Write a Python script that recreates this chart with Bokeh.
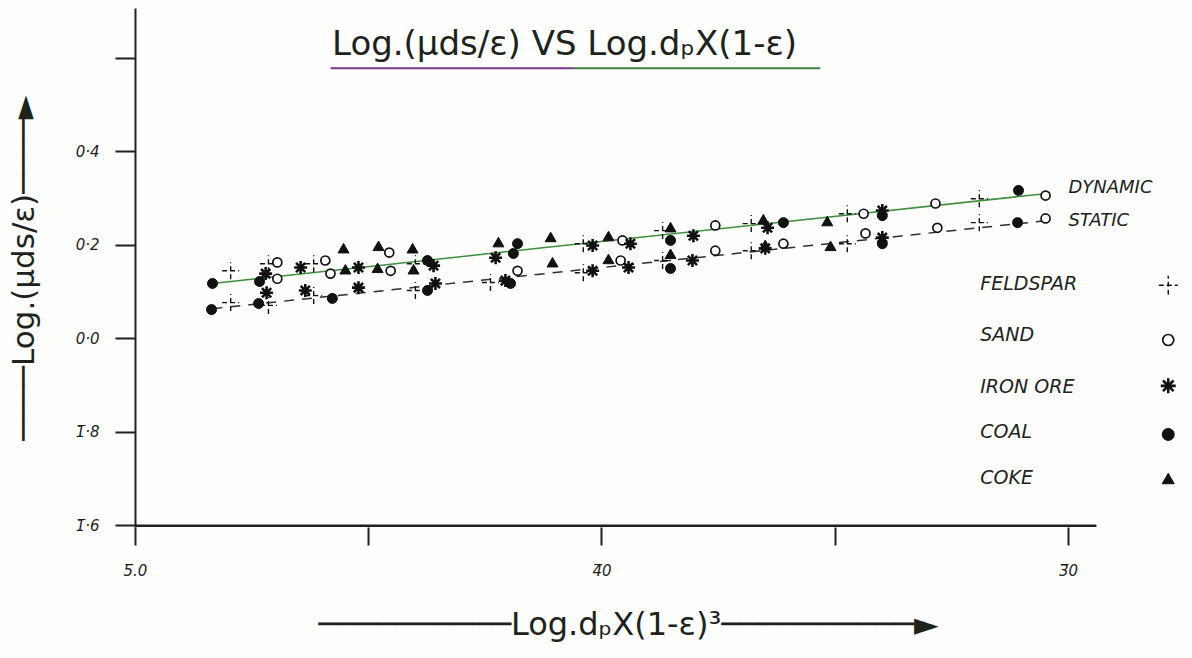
from bokeh.plotting import figure
from bokeh.models import FixedTicker, Range1d
from bokeh.core.properties import value
from bokeh.embed import file_html
from bokeh.resources import INLINE

# ---------------- data (log values; bar notation: 5̄.0 = -5, 1̄.8 = -0.2) ----------------
FELDSPAR_X = [-4.796, -4.796, -4.715, -4.715, -4.618, -4.618, -4.400, -4.400, -4.239,
              -4.040, -4.040, -3.870, -3.870, -3.680, -3.680, -3.474, -3.474, -3.191, -3.191]
FELDSPAR_Y = [0.145, 0.077, 0.160, 0.071, 0.160, 0.092, 0.160, 0.103, 0.120,
              0.203, 0.141, 0.231, 0.167, 0.246, 0.188, 0.267, 0.203, 0.299, 0.248]

SAND_X = [-4.696, -4.696, -4.593, -4.582, -4.456, -4.453, -4.181, -3.956, -3.960,
          -3.757, -3.757, -3.611, -3.439, -3.435, -3.285, -3.281, -3.049, -3.049]
SAND_Y = [0.163, 0.128, 0.167, 0.139, 0.184, 0.145, 0.145, 0.210, 0.167,
          0.242, 0.188, 0.203, 0.267, 0.225, 0.289, 0.237, 0.306, 0.257]

IRON_X = [-4.721, -4.719, -4.646, -4.636, -4.522, -4.522, -4.361, -4.357, -4.228, -4.207,
          -4.020, -4.020, -3.939, -3.943, -3.804, -3.806, -3.645, -3.650, -3.399, -3.399]
IRON_Y = [0.139, 0.098, 0.152, 0.103, 0.152, 0.109, 0.156, 0.118, 0.173, 0.124,
          0.199, 0.145, 0.203, 0.152, 0.220, 0.167, 0.237, 0.193, 0.274, 0.216]

COAL_X = [-4.835, -4.837, -4.734, -4.736, -4.578, -4.374, -4.374, -4.181, -4.190,
          -4.196, -3.853, -3.853, -3.611, -3.399, -3.399, -3.107, -3.109]
COAL_Y = [0.118, 0.062, 0.122, 0.075, 0.086, 0.167, 0.103, 0.203, 0.182,
          0.118, 0.210, 0.150, 0.248, 0.263, 0.203, 0.317, 0.248]

COKE_X = [-4.554, -4.550, -4.479, -4.481, -4.406, -4.404, -4.222, -4.110, -4.106,
          -3.986, -3.986, -3.853, -3.853, -3.654, -3.650, -3.517, -3.510]
COKE_Y = [0.190, 0.145, 0.195, 0.148, 0.190, 0.145, 0.203, 0.214, 0.160,
          0.216, 0.167, 0.235, 0.178, 0.252, 0.197, 0.248, 0.195]

# fitted lines
FIT_X = [-4.835, -3.049]
DYNAMIC_Y = [0.118, 0.310]
STATIC_Y = [0.064, 0.252]

X_TICKS = [-5.0, -4.5, -4.0, -3.5, -3.0]
X_TICK_LABELS = ["5\u0305.0", "", "4\u03050", "", "3\u03050"]
Y_TICKS = [-0.4, -0.2, 0.0, 0.2, 0.4, 0.6]
Y_TICK_LABELS = ["1\u0305\u00b76", "1\u0305\u00b78", "0\u00b70", "0\u00b72", "0\u00b74", ""]

LEGEND_LABELS = ["FELDSPAR", "SAND", "IRON ORE", "COAL", "COKE"]
TITLE = "Log.(\u03bcds/\u03b5)  VS  Log.d\u209aX(1-\u03b5)"
X_LABEL = "Log.d\u209aX(1-\u03b5)\u00b3"
Y_LABEL = "Log.(\u03bcds/\u03b5)"

INK = "#1c221c"
FONT = "DejaVu Sans"

p = figure(width=1192, height=658, output_backend="svg", toolbar_location=None,
           x_range=Range1d(-5.0, -2.734), y_range=Range1d(-0.404, 0.706),
           min_border_left=135, min_border_right=0, min_border_top=8, min_border_bottom=131)
p.outline_line_color = None
p.grid.visible = False
p.background_fill_color = "#fefefc"
p.border_fill_color = "#fefefc"

# x axis
xa = p.xaxis[0]
xa.ticker = FixedTicker(ticks=X_TICKS, minor_ticks=[])
xa.major_label_overrides = {t: l for t, l in zip(X_TICKS, X_TICK_LABELS)}
xa.axis_line_color = None
xa.major_tick_in = 0
xa.major_tick_out = 18
xa.major_tick_line_width = 2
xa.major_tick_line_color = INK
xa.minor_tick_line_color = None
xa.major_label_text_font = FONT
xa.major_label_text_font_style = "italic"
xa.major_label_text_font_size = "15px"
xa.major_label_text_color = INK
xa.major_label_standoff = 16
lines = "\u2500" * 10
xa.axis_label = lines + X_LABEL + lines + "\u25ba" + "\u00a0" * 7
xa.axis_label_text_font = FONT
xa.axis_label_text_font_style = "normal"
xa.axis_label_text_font_size = "32px"
xa.axis_label_text_color = INK
xa.axis_label_standoff = 22

# y axis
ya = p.yaxis[0]
ya.ticker = FixedTicker(ticks=Y_TICKS, minor_ticks=[])
ya.major_label_overrides = {t: l for t, l in zip(Y_TICKS, Y_TICK_LABELS)}
ya.axis_line_width = 2
ya.axis_line_color = INK
ya.major_tick_in = 0
ya.major_tick_out = 20
ya.major_tick_line_width = 2
ya.major_tick_line_color = INK
ya.minor_tick_line_color = None
ya.major_label_text_font = FONT
ya.major_label_text_font_style = "italic"
ya.major_label_text_font_size = "15px"
ya.major_label_text_color = INK
ya.major_label_standoff = 16
ylines = "\u2500" * 4
ya.axis_label = ylines + Y_LABEL + ylines + "\u25ba"
ya.axis_label_text_font = FONT
ya.axis_label_text_font_style = "normal"
ya.axis_label_text_font_size = "31px"
ya.axis_label_text_color = INK
ya.axis_label_standoff = 32

# visible x-axis line (stops short of the right edge like the drawing)
p.segment(x0=[-5.0], y0=[-0.4], x1=[-2.94], y1=[-0.4], line_color=INK, line_width=2.5)

# title + underline
p.text(x=[-4.057], y=[0.632], text=[TITLE], text_align="center", text_baseline="middle",
       text_font=value(FONT), text_font_size="34px", text_color=INK)
p.segment(x0=[-4.582], y0=[0.578], x1=[-4.06], y1=[0.578], line_color="#7a3a8a", line_width=2)
p.segment(x0=[-4.06], y0=[0.578], x1=[-3.532], y1=[0.578], line_color="#3f7f3f", line_width=2)

# fitted lines
p.line(FIT_X, DYNAMIC_Y, line_color="#3c8f3c", line_width=1.5)
p.line(FIT_X, STATIC_Y, line_color="#2e2e2e", line_width=1.5, line_dash="10 8")

p.text(x=[-3.0, -3.0], y=[0.325, 0.255], text=["DYNAMIC", "STATIC"], text_align="left",
       text_baseline="middle", text_font=value(FONT), text_font_style="italic",
       text_font_size="18px", text_color=INK)

# markers
def feldspar(xs, ys, size=17):
    p.scatter(xs, ys, marker="cross", size=size, line_color="#111111", line_width=1.4,
              line_dash="5 3")

def sand(xs, ys, size=9):
    p.scatter(xs, ys, marker="circle", size=size, fill_color="white", line_color="#111111",
              line_width=1.7)

def iron(xs, ys, size=13):
    p.scatter(xs, ys, marker="asterisk", size=size, line_color="#111111", line_width=2.6)

def coal(xs, ys, size=10):
    p.scatter(xs, ys, marker="circle", size=size, fill_color="#111111", line_color="#111111")

def coke(xs, ys, size=11):
    p.scatter(xs, ys, marker="triangle", size=size, fill_color="#111111", line_color="#111111")

feldspar(FELDSPAR_X, FELDSPAR_Y)
sand(SAND_X, SAND_Y)
iron(IRON_X, IRON_Y)
coal(COAL_X, COAL_Y)
coke(COKE_X, COKE_Y)

# legend (drawn like the hand-lettered key)
leg_y = [0.118, 0.009, -0.101, -0.197, -0.295]
p.text(x=[-3.189] * 5, y=leg_y, text=LEGEND_LABELS, text_align="left", text_baseline="middle",
       text_font=value(FONT), text_font_style="italic", text_font_size="19px", text_color=INK)
mx = -2.786
feldspar([mx], [leg_y[0] - 0.004], size=19)
sand([mx], [leg_y[1] - 0.012], size=11)
iron([mx], [leg_y[2]], size=15)
coal([mx], [leg_y[3] - 0.008], size=12)
coke([mx], [leg_y[4] - 0.008], size=12)

open("out.html", "w").write(file_html(p, INLINE))
